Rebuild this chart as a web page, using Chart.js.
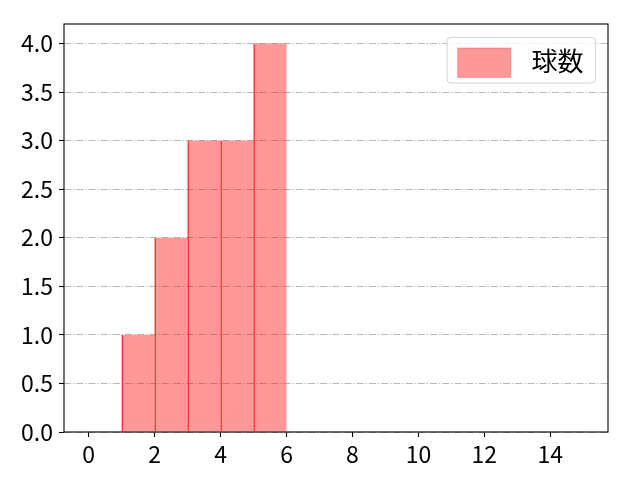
<!DOCTYPE html>
<html><head><meta charset="utf-8">
<script src="https://cdn.jsdelivr.net/npm/chart.js@4"></script>
<style>html,body{margin:0;padding:0;background:#fff}#wrap{width:640px;height:480px}</style>
</head><body><div id="wrap"><canvas id="c" width="640" height="480"></canvas></div>
<script>
const binStarts = [0,1,2,3,4,5,6,7,8,9,10,11,12,13,14];
const counts    = [0,1,2,3,3,4,0,0,0,0,0,0,0,0,0];
const binWidth = 1;
const seriesLabel = '球数';
const xTicks = [0,2,4,6,8,10,12,14];
const yTicks = [0,0.5,1.0,1.5,2.0,2.5,3.0,3.5,4.0];
const xRange = [-0.75, 15.75];
const yRange = [0, 4.2];

const FONT = '"Noto Sans CJK JP", "Noto Sans", sans-serif';

const barData = binStarts.map((s,i)=>({x: s + binWidth/2, y: counts[i]}));

const framePlugin = {
  id: 'frame',
  afterDatasetsDraw(chart){
    const {ctx, chartArea: a} = chart;
    ctx.save();
    ctx.strokeStyle = '#000';
    ctx.lineWidth = 1.1;
    ctx.strokeRect(a.left, a.top, a.right - a.left, a.bottom - a.top);
    ctx.restore();
  }
};

const legendPlugin = {
  id: 'boxLegend',
  afterDraw(chart){
    const {ctx, chartArea: a} = chart;
    const ds = chart.data.datasets[0];
    const w = 148.4, h = 45.6;
    const x = a.right - 12.6 - w, y = a.top + 13.4;
    ctx.save();
    ctx.beginPath();
    ctx.roundRect(x, y, w, h, 4);
    ctx.fillStyle = 'rgba(255,255,255,0.8)';
    ctx.fill();
    ctx.strokeStyle = '#d0d0d0';
    ctx.lineWidth = 1;
    ctx.stroke();
    ctx.fillStyle = ds.backgroundColor;
    ctx.fillRect(x + 10.7, y + 10.6, 53, 29.4);
    ctx.strokeStyle = 'rgba(255,0,0,0.3)';
    ctx.strokeRect(x + 10.7, y + 10.6, 53, 29.4);
    ctx.fillStyle = '#000';
    ctx.font = '26px ' + FONT;
    ctx.textBaseline = 'middle';
    ctx.textAlign = 'left';
    ctx.fillText(ds.label, x + 84.5, y + h/2 + 1);
    ctx.restore();
  }
};

new Chart(document.getElementById('c'), {
  type: 'bar',
  data: {
    datasets: [{
      label: seriesLabel,
      data: barData,
      backgroundColor: 'rgba(255,0,0,0.4)',
      borderColor: 'rgba(255,0,0,0.72)',
      borderWidth: (c) => (c.raw && c.raw.y > 0) ? {left:1, right:0, top:0, bottom:0} : 0,
      barPercentage: 1,
      categoryPercentage: 1,
      grouped: false
    }]
  },
  options: {
    responsive: false,
    animation: false,
    devicePixelRatio: 1,
    layout: { padding: { top: 24, right: 32, left: 0, bottom: 0 } },
    plugins: { legend: { display: false }, tooltip: { enabled: false } },
    scales: {
      x: {
        type: 'linear',
        min: xRange[0], max: xRange[1],
        offset: false,
        afterBuildTicks: (s) => { s.ticks = xTicks.map(v => ({value: v})); },
        afterFit: (s) => { s.height = 48; },
        ticks: { color: '#000', font: { family: FONT, size: 23 }, padding: 3, maxRotation: 0, autoSkip: false,
                 callback: (v) => String(v) },
        grid: { display: true, offset: false, drawOnChartArea: false, drawTicks: true, tickLength: 5, tickColor: '#000', tickWidth: 1.1 },
        border: { display: false }
      },
      y: {
        type: 'linear',
        min: yRange[0], max: yRange[1],
        afterBuildTicks: (s) => { s.ticks = yTicks.map(v => ({value: v})); },
        afterFit: (s) => { s.width = 64; },
        ticks: { color: '#000', font: { family: FONT, size: 23 }, padding: 6, autoSkip: false,
                 callback: (v) => Number(v).toFixed(1) },
        grid: { color: '#b0b0b0', lineWidth: 0.9, offset: false, drawTicks: true, tickLength: 5, tickColor: '#000', tickWidth: 1.1, tickBorderDash: [] },
        border: { display: false, dash: [7, 2, 1.2, 2] }
      }
    }
  },
  plugins: [framePlugin, legendPlugin]
});
</script>
</body></html>
